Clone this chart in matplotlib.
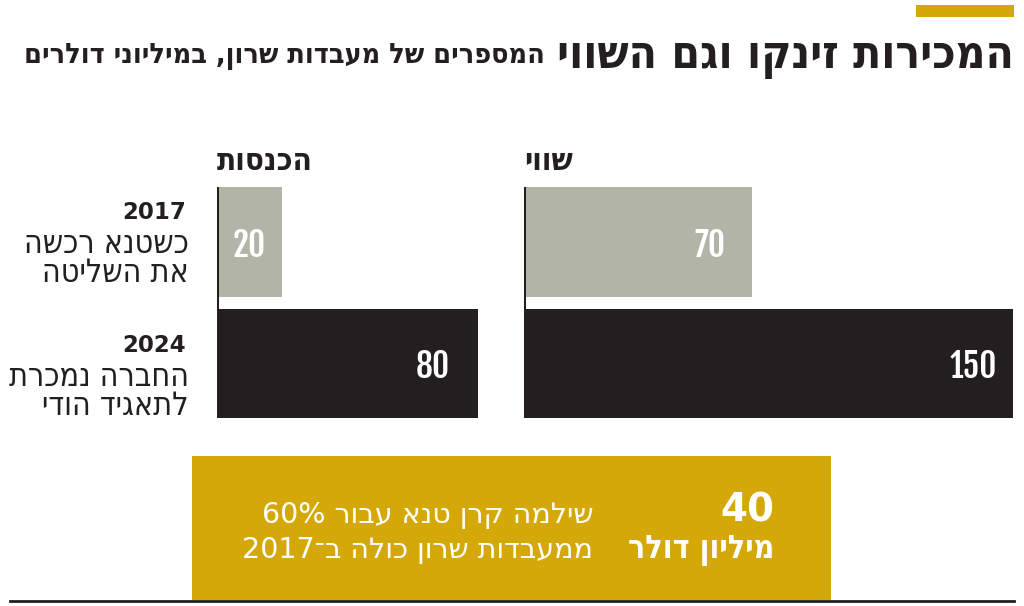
import re
import matplotlib
matplotlib.use("Agg")
import matplotlib.pyplot as plt
from matplotlib.patches import Rectangle

plt.rcParams['font.family'] = ['DejaVu Sans']

# ---------------- data ----------------
title = "המכירות זינקו וגם השווי"
subtitle = "המספרים של מעבדות שרון, במיליוני דולרים"
panel_titles = ["הכנסות", "שווי"]
years = ["2017", "2024"]
row_notes = [["כשטנא רכשה", "את השליטה"], ["החברה נמכרת", "לתאגיד הודי"]]
revenue = [20, 80]
value = [70, 150]
box_number = "40"
box_unit = "מיליון דולר"
box_lines = ["שילמה קרן טנא עבור 60%", "ממעבדות שרון כולה ב־2017"]

# ---------------- style ----------------
GRAY = "#b3b4a8"
BLACK = "#231f20"
GOLD = "#d4a808"
W, H = 1024, 606
NUM_FONT = ['Fjalla One', 'Oswald', 'DejaVu Sans']


def rtl(s):
    r = s[::-1]
    return re.sub(r"[0-9%]+", lambda m: m.group(0)[::-1], r)


fig = plt.figure(figsize=(W / 100, H / 100), dpi=100)
bg = fig.add_axes([0, 0, 1, 1])
bg.set_xlim(0, W)
bg.set_ylim(H, 0)
bg.axis("off")

# top gold accent
bg.add_patch(Rectangle((916, 5), 98, 12, color=GOLD, lw=0))

# title + subtitle
bg.text(1014, 68, rtl(title), ha="right", va="baseline", fontsize=33,
        fontweight="bold", fontstretch="condensed", color=BLACK)
bg.text(545, 63, rtl(subtitle), ha="right", va="baseline", fontsize=20.5,
        fontweight="bold", fontstretch="condensed", color=BLACK)

# bar panels
px = 3.26  # pixels per unit
centers_px = [242, 363.5]
unit_px = centers_px[1] - centers_px[0]
bar_h = 110 / unit_px
y_top_px = 187
y_bot_px = 418
ylo = -(centers_px[0] - y_top_px) / unit_px
yhi = 1 + (y_bot_px - centers_px[1]) / unit_px


def panel(x0_px, xmax, vals, head, offsets):
    width_px = xmax * px
    ax = fig.add_axes([x0_px / W, 1 - y_bot_px / H, width_px / W,
                       (y_bot_px - y_top_px) / H])
    ax.barh([0, 1], vals, height=bar_h, color=[GRAY, BLACK], lw=0)
    ax.set_xlim(0, xmax)
    ax.set_ylim(yhi, ylo)
    ax.axis("off")
    ax.axvline(0, color=BLACK, lw=2.2)
    for i, (v, off) in enumerate(zip(vals, offsets)):
        if off is None:
            xpos, ha = v / 2, "center"
        else:
            xpos, ha = v - off / px, "right"
        ax.text(xpos, i, str(v), ha=ha, va="center_baseline",
                fontsize=24, family=NUM_FONT, color="white")
    bg.text(x0_px, 170, rtl(head), ha="left", va="baseline", fontsize=22.5,
            fontweight="bold", fontstretch="condensed", color=BLACK)
    return ax


panel(217, 85, revenue, panel_titles[0], [None, 28])
panel(524, 150, value, panel_titles[1], [27, 16])

# row labels
for i, (yr, notes) in enumerate(zip(years, row_notes)):
    base = [219, 352][i]
    bg.text(186, base, yr, ha="right", va="baseline", fontsize=16.5,
            fontweight="bold", color=BLACK)
    for j, line in enumerate(notes):
        bg.text(189, base + 34 + 29 * j, rtl(line), ha="right",
                va="baseline", fontsize=23, fontstretch="condensed",
                color=BLACK)

# gold box
bg.add_patch(Rectangle((192, 456), 639, 144, color=GOLD, lw=0))
bg.plot([10, 1014], [600.5, 600.5], color=BLACK, lw=2)
bg.text(774, 521, box_number, ha="right", va="baseline", fontsize=28,
        fontweight="bold", color="white")
bg.text(774, 558, rtl(box_unit), ha="right", va="baseline", fontsize=23,
        fontweight="bold", fontstretch="condensed", color="white")
for j, line in enumerate(box_lines):
    bg.text(593, 523 + 35 * j, rtl(line), ha="right", va="baseline",
            fontsize=20.5, color="white")

fig.savefig("out.png", dpi=100)
